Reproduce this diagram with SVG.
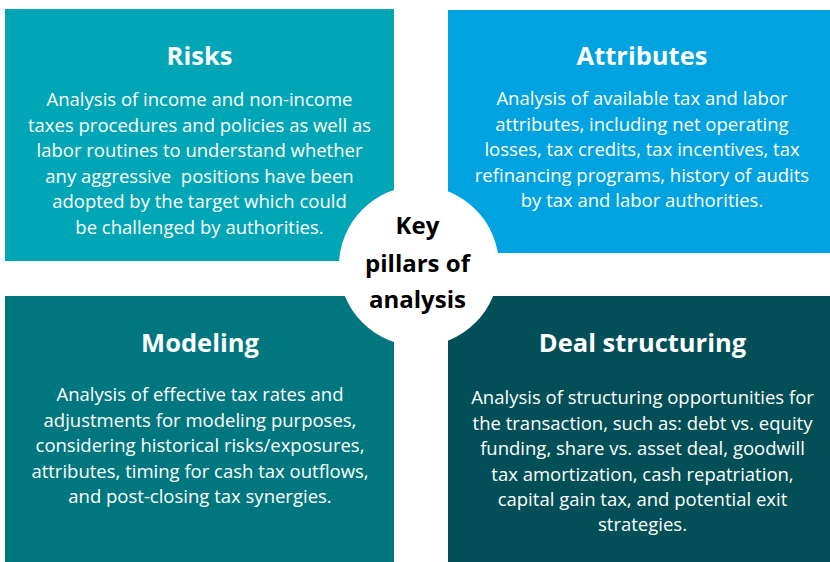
<svg xmlns="http://www.w3.org/2000/svg" width="830" height="562" viewBox="0 0 830 562">
<style>
.t{font-family:"Open Sans","Liberation Sans",sans-serif;font-weight:bold;font-size:25.5px;fill:#fff;text-anchor:middle}
.b{font-family:"Open Sans","Liberation Sans",sans-serif;font-size:18.5px;fill:#fff;text-anchor:middle}
.c{font-family:"Open Sans","Liberation Sans",sans-serif;font-weight:bold;font-size:24px;fill:#000;text-anchor:middle}
</style>
<rect width="830" height="562" fill="#fff"/>
<g id="risks">
<rect x="5" y="9" width="389" height="252" fill="#00A6B6"/>
<text class="t" x="199.5" y="65">Risks</text>
<text class="b" x="199.5" y="106">Analysis of income and non-income</text>
<text class="b" x="199.5" y="131.6">taxes procedures and policies as well as</text>
<text class="b" x="199.5" y="157.2">labor routines to understand whether</text>
<text class="b" x="199.5" y="182.8" xml:space="preserve">any aggressive  positions have been</text>
<text class="b" x="199.5" y="208.4">adopted by the target which could</text>
<text class="b" x="199.5" y="234">be challenged by authorities.</text>
</g>
<g id="attributes">
<rect x="448" y="10" width="382" height="243" fill="#00A3DF"/>
<text class="t" x="642" y="65">Attributes</text>
<text class="b" x="642" y="105">Analysis of available tax and labor</text>
<text class="b" x="642" y="130.5">attributes, including net operating</text>
<text class="b" x="642" y="156">losses, tax credits, tax incentives, tax</text>
<text class="b" x="642" y="181.5">refinancing programs, history of audits</text>
<text class="b" x="642" y="207">by tax and labor authorities.</text>
</g>
<g id="modeling">
<rect x="5" y="296" width="389" height="266" fill="#00777E"/>
<text class="t" x="200" y="352">Modeling</text>
<text class="b" x="200" y="401">Analysis of effective tax rates and</text>
<text class="b" x="200" y="426.5">adjustments for modeling purposes,</text>
<text class="b" x="200" y="452">considering historical risks/exposures,</text>
<text class="b" x="200" y="477.5">attributes, timing for cash tax outflows,</text>
<text class="b" x="200" y="503">and post-closing tax synergies.</text>
</g>
<g id="deal-structuring">
<rect x="448" y="296" width="382" height="266" fill="#024F57"/>
<text class="t" x="642.5" y="352">Deal structuring</text>
<text class="b" x="642.5" y="404">Analysis of structuring opportunities for</text>
<text class="b" x="642.5" y="429.5">the transaction, such as: debt vs. equity</text>
<text class="b" x="642.5" y="455">funding, share vs. asset deal, goodwill</text>
<text class="b" x="642.5" y="480.5">tax amortization, cash repatriation,</text>
<text class="b" x="642.5" y="506">capital gain tax, and potential exit</text>
<text class="b" x="642.5" y="531">strategies.</text>
</g>
<g id="center">
<circle cx="419" cy="266" r="80" fill="#fff"/>
<text class="c" x="417.5" y="234">Key</text>
<text class="c" x="417.5" y="272">pillars of</text>
<text class="c" x="417.5" y="308">analysis</text>
</g>
<g id="connectors"/>
</svg>
